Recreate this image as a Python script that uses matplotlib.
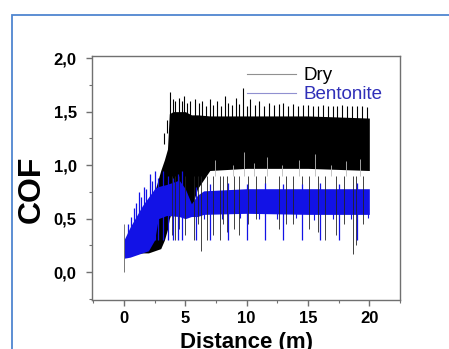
import matplotlib
matplotlib.use('Agg')
import matplotlib.pyplot as plt
from matplotlib.ticker import MultipleLocator
from matplotlib.patches import Rectangle

plt.rcParams['font.family'] = ['Liberation Sans', 'DejaVu Sans']

# envelope of the dense part of each trace
dry_x = [0, 0.5, 1, 1.5, 2, 2.5, 3, 3.3, 3.55, 3.7, 4, 5, 5.5, 6, 7, 10, 15, 20]
dry_low = [0.15, 0.15, 0.17, 0.18, 0.18, 0.2, 0.22, 0.3, 0.4, 0.5, 0.6, 0.75, 0.6, 0.78, 0.95, 0.97, 0.97, 0.95]
dry_high = [0.2, 0.3, 0.4, 0.5, 0.6, 0.75, 0.95, 1.05, 1.15, 1.48, 1.5, 1.5, 1.47, 1.47, 1.46, 1.46, 1.46, 1.44]

bent_x = [0, 0.5, 1, 1.5, 2, 2.5, 2.8, 3.5, 4.5, 5, 5.5, 6, 6.5, 10, 15, 20]
bent_low = [0.13, 0.14, 0.16, 0.18, 0.2, 0.3, 0.5, 0.53, 0.52, 0.5, 0.52, 0.52, 0.54, 0.55, 0.54, 0.54]
bent_high = [0.3, 0.42, 0.52, 0.62, 0.7, 0.78, 0.8, 0.82, 0.86, 0.78, 0.64, 0.72, 0.76, 0.78, 0.78, 0.78]

# spikes above the dry band
dry_top_x = [3.3, 3.5, 3.75, 4.0, 4.2, 4.45, 4.7, 4.9, 5.15, 5.4, 5.8, 6.1, 6.4, 6.7, 7.0, 7.3,
             7.6, 7.9, 8.2, 8.5, 8.8, 9.1, 9.4, 9.7, 10.0, 10.3, 10.7, 11.0, 11.4, 11.8, 12.2,
             12.6, 13.0, 13.4, 13.8, 14.2, 14.6, 15.0, 15.4, 15.8, 16.2, 16.6, 17.0, 17.4,
             17.8, 18.2, 18.6, 19.0, 19.4, 19.8]
dry_top_y = [1.2, 1.42, 1.68, 1.62, 1.6, 1.63, 1.6, 1.65, 1.58, 1.6, 1.62, 1.58, 1.6, 1.55, 1.62, 1.56,
             1.6, 1.55, 1.65, 1.58, 1.56, 1.63, 1.57, 1.72, 1.55, 1.62, 1.56, 1.6, 1.55, 1.58, 1.56,
             1.57, 1.58, 1.55, 1.57, 1.55, 1.56, 1.56, 1.55, 1.55, 1.56, 1.55, 1.55, 1.55,
             1.56, 1.55, 1.55, 1.55, 1.55, 1.54]

# spikes below the dry band
dry_dip_x = [3.9, 4.2, 4.5, 5.0, 5.7, 6.0, 6.3, 6.8, 7.3, 7.8, 8.1, 8.4, 9.0, 9.4, 10.1,
             10.8, 11.5, 12.6, 13.2, 13.8, 14.5, 15.1, 15.8, 16.4, 17.3, 17.9, 18.7, 18.9, 19.5]
dry_dip_y = [0.35, 0.3, 0.4, 0.35, 0.3, 0.45, 0.2, 0.3, 0.35, 0.3, 0.45, 0.38, 0.4, 0.35, 0.45,
             0.5, 0.38, 0.4, 0.45, 0.45, 0.5, 0.4, 0.38, 0.3, 0.35, 0.45, 0.17, 0.25, 0.45]

# first reading at x = 0
start_x = [0.0]
start_lo = [0.0]
start_hi = [0.45]

# light streaks inside the dry band
dry_gap_x = [7.4, 8.9, 9.8, 10.6, 11.7, 12.9, 14.3, 15.6, 16.9, 18.1, 19.2]
dry_gap_y = [1.05, 1.0, 1.12, 1.02, 1.08, 1.0, 1.05, 1.1, 1.0, 1.04, 1.06]

# spikes of the bentonite trace
bent_top_x = [0.3, 0.6, 0.8, 1.0, 1.2, 1.4, 1.6, 1.8, 2.1, 2.3, 2.5, 2.8, 3.2, 3.6, 4.0,
              4.4, 4.7, 5.9, 7.0, 8.5, 10.0, 11.5, 13.0, 14.5, 16.0, 17.5, 19.0]
bent_top_y = [0.45, 0.52, 0.6, 0.65, 0.75, 0.7, 0.8, 0.78, 0.92, 0.85, 0.95, 0.88, 0.95, 0.9, 0.88,
              0.92, 0.95, 0.8, 0.82, 0.83, 0.82, 0.83, 0.82, 0.82, 0.83, 0.82, 0.83]
bent_dip_x = [6.5, 8.0, 9.5, 11.0, 12.5, 14.0, 15.5, 17.0, 18.5, 19.9]
bent_dip_y = [0.5, 0.5, 0.51, 0.5, 0.5, 0.51, 0.49, 0.5, 0.5, 0.51]

fig = plt.figure(figsize=(4.49, 3.49), dpi=100)
fig.patches.append(Rectangle((12 / 449, -0.1), 1.2, 1 - 15.5 / 349 + 0.1, transform=fig.transFigure,
                             fill=False, edgecolor='#4f86d0', linewidth=1.3))
ax = fig.add_axes([92 / 449, 1 - 300 / 349, 308 / 449, 244 / 349])

dry_c = 'black'
bent_c = '#1212e6'

ax.fill_between(dry_x, dry_low, dry_high, color=dry_c, linewidth=0)
ax.vlines(dry_top_x, 1.3, dry_top_y, color=dry_c, linewidth=0.8)
ax.vlines(dry_dip_x, dry_dip_y, 0.9, color='#222222', linewidth=0.6)
ax.vlines(dry_gap_x, 0.9, dry_gap_y, color='#bbbbbb', linewidth=0.6)
ax.vlines(start_x, start_lo, start_hi, color='#777777', linewidth=0.7)

ax.fill_between(bent_x, bent_low, bent_high, color=bent_c, linewidth=0)
ax.vlines(bent_top_x, 0.3, bent_top_y, color=bent_c, linewidth=0.9)
ax.vlines(bent_dip_x, bent_dip_y, 0.6, color=bent_c, linewidth=0.8)

ax.plot([], [], color='#909090', linewidth=0.8, label='Dry')
ax.plot([], [], color='#9090d0', linewidth=0.8, label='Bentonite')
leg = ax.legend(loc='upper right', frameon=False, fontsize=13.5, handlelength=2.6,
                handletextpad=0.4, labelspacing=0.1, borderaxespad=0.2,
                bbox_to_anchor=(0.98, 1.0))
leg.get_texts()[1].set_color('#2f2fb8')

ax.set_xlim(-2.6, 22.5)
ax.set_ylim(-0.26, 2.02)
ax.xaxis.set_major_locator(MultipleLocator(5))
ax.xaxis.set_minor_locator(MultipleLocator(2.5))
ax.yaxis.set_minor_locator(MultipleLocator(0.25))
yt = [0.0, 0.5, 1.0, 1.5, 2.0]
ax.set_yticks(yt)
ax.set_yticklabels([('%.1f' % v).replace('.', ',') for v in yt])

for s in ax.spines.values():
    s.set_color('#707070')
    s.set_linewidth(1.0)
ax.tick_params(which='both', direction='out', color='#707070', top=False, right=False)
ax.tick_params(which='major', length=4, width=1.0, labelsize=12)
ax.tick_params(axis='y', which='major', pad=7)
ax.tick_params(axis='x', which='major', pad=4)
ax.tick_params(which='minor', length=2.5, width=0.8)
for lab in ax.get_xticklabels() + ax.get_yticklabels():
    lab.set_fontweight('bold')

ax.set_xlabel('Distance (m)', fontsize=16, fontweight='bold', labelpad=4)
ax.set_ylabel('COF', fontsize=23, fontweight='bold')
ax.yaxis.set_label_coords(-0.146, 0.455)

fig.savefig('out.png', dpi=100)
